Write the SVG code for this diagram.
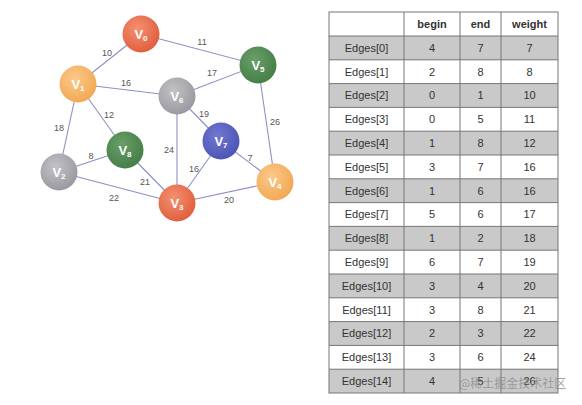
<svg xmlns="http://www.w3.org/2000/svg" width="582" height="405" viewBox="0 0 582 405">
<defs>
<radialGradient id="gRed" cx="40%" cy="35%" r="65%"><stop offset="0" stop-color="#f49070"/><stop offset="1" stop-color="#e0603f"/></radialGradient>
<radialGradient id="gOrange" cx="40%" cy="35%" r="65%"><stop offset="0" stop-color="#fbc98a"/><stop offset="1" stop-color="#f2a955"/></radialGradient>
<radialGradient id="gGreen" cx="40%" cy="35%" r="65%"><stop offset="0" stop-color="#6a9e68"/><stop offset="1" stop-color="#467f47"/></radialGradient>
<radialGradient id="gGray" cx="40%" cy="35%" r="65%"><stop offset="0" stop-color="#c2c2c6"/><stop offset="1" stop-color="#9a9aa0"/></radialGradient>
<radialGradient id="gBlue" cx="40%" cy="35%" r="65%"><stop offset="0" stop-color="#7178d0"/><stop offset="1" stop-color="#4e55b5"/></radialGradient>
</defs>
<style>
.edge{stroke:#8d90c4;stroke-width:1.1;fill:none}
.el{font-family:"Liberation Sans",Arial,sans-serif;font-size:9px;fill:#555;text-anchor:middle}
.nl{font-family:"Liberation Sans",Arial,sans-serif;font-size:13px;font-weight:bold;fill:#fff;text-anchor:middle}
.nl tspan.s{font-size:8px}
.grid{stroke:#777;stroke-width:1;fill:none}
.sh{fill:#c9c9c9}
.tc{font-family:"Liberation Sans",Arial,sans-serif;font-size:11px;fill:#333;text-anchor:middle}
.th{font-family:"Liberation Sans",Arial,sans-serif;font-size:11px;font-weight:bold;fill:#333;text-anchor:middle}
.wm{font-family:"Noto Sans CJK SC",sans-serif;font-size:12px;fill:#888;fill-opacity:0.75}
</style>
<rect width="582" height="405" fill="#fff"/>
<g id="connectors">
<line class="edge" x1="141" y1="34" x2="78" y2="84"/>
<line class="edge" x1="141" y1="34" x2="258" y2="65"/>
<line class="edge" x1="78" y1="84" x2="177" y2="96"/>
<line class="edge" x1="258" y1="65" x2="177" y2="96"/>
<line class="edge" x1="78" y1="84" x2="125" y2="150"/>
<line class="edge" x1="78" y1="84" x2="59" y2="172"/>
<line class="edge" x1="177" y1="96" x2="221" y2="141"/>
<line class="edge" x1="177" y1="96" x2="177" y2="203"/>
<line class="edge" x1="258" y1="65" x2="275" y2="182"/>
<line class="edge" x1="221" y1="141" x2="275" y2="182"/>
<line class="edge" x1="221" y1="141" x2="177" y2="203"/>
<line class="edge" x1="125" y1="150" x2="59" y2="172"/>
<line class="edge" x1="125" y1="150" x2="177" y2="203"/>
<line class="edge" x1="59" y1="172" x2="177" y2="203"/>
<line class="edge" x1="177" y1="203" x2="275" y2="182"/>
<text class="el" x="107" y="56">10</text>
<text class="el" x="202" y="45">11</text>
<text class="el" x="126" y="86">16</text>
<text class="el" x="212" y="76">17</text>
<text class="el" x="109" y="118">12</text>
<text class="el" x="204" y="117">19</text>
<text class="el" x="275" y="125">26</text>
<text class="el" x="59" y="131">18</text>
<text class="el" x="169" y="153">24</text>
<text class="el" x="91" y="159">8</text>
<text class="el" x="250" y="161">7</text>
<text class="el" x="194" y="172">16</text>
<text class="el" x="145" y="185">21</text>
<text class="el" x="114" y="201">22</text>
<text class="el" x="229" y="203">20</text>
</g>
<g id="V0"><circle cx="141" cy="34" r="18.5" fill="url(#gRed)"/><text class="nl" x="141" y="39">V<tspan class="s" dy="2">0</tspan></text></g>
<g id="V1"><circle cx="78" cy="84" r="18.5" fill="url(#gOrange)"/><text class="nl" x="78" y="89">V<tspan class="s" dy="2">1</tspan></text></g>
<g id="V2"><circle cx="59" cy="172" r="18.5" fill="url(#gGray)"/><text class="nl" x="59" y="177">V<tspan class="s" dy="2">2</tspan></text></g>
<g id="V3"><circle cx="177" cy="203" r="18.5" fill="url(#gRed)"/><text class="nl" x="177" y="208">V<tspan class="s" dy="2">3</tspan></text></g>
<g id="V4"><circle cx="275" cy="182" r="18.5" fill="url(#gOrange)"/><text class="nl" x="275" y="187">V<tspan class="s" dy="2">4</tspan></text></g>
<g id="V5"><circle cx="258" cy="65" r="18.5" fill="url(#gGreen)"/><text class="nl" x="258" y="70">V<tspan class="s" dy="2">5</tspan></text></g>
<g id="V6"><circle cx="177" cy="96" r="18.5" fill="url(#gGray)"/><text class="nl" x="177" y="101">V<tspan class="s" dy="2">6</tspan></text></g>
<g id="V7"><circle cx="221" cy="141" r="18.5" fill="url(#gBlue)"/><text class="nl" x="221" y="146">V<tspan class="s" dy="2">7</tspan></text></g>
<g id="V8"><circle cx="125" cy="150" r="18.5" fill="url(#gGreen)"/><text class="nl" x="125" y="155">V<tspan class="s" dy="2">8</tspan></text></g>
<g id="table">
<rect class="sh" x="329" y="36" width="229" height="23.8"/>
<rect class="sh" x="329" y="83.6" width="229" height="23.8"/>
<rect class="sh" x="329" y="131.2" width="229" height="23.8"/>
<rect class="sh" x="329" y="178.8" width="229" height="23.8"/>
<rect class="sh" x="329" y="226.4" width="229" height="23.8"/>
<rect class="sh" x="329" y="274" width="229" height="23.8"/>
<rect class="sh" x="329" y="321.6" width="229" height="23.8"/>
<rect class="sh" x="329" y="369.2" width="229" height="23.8"/>
<rect class="grid" x="329" y="12" width="229" height="381"/>
<path class="grid" d="M404 12V393M460 12V393M501 12V393M329 36H558M329 59.8H558M329 83.6H558M329 107.4H558M329 131.2H558M329 155H558M329 178.8H558M329 202.6H558M329 226.4H558M329 250.2H558M329 274H558M329 297.8H558M329 321.6H558M329 345.4H558M329 369.2H558"/>
<text class="th" x="432" y="28">begin</text><text class="th" x="480.5" y="28">end</text><text class="th" x="529.5" y="28">weight</text>
<text class="tc" x="366.5" y="51.8">Edges[0]</text><text class="tc" x="432" y="51.8">4</text><text class="tc" x="480.5" y="51.8">7</text><text class="tc" x="529.5" y="51.8">7</text>
<text class="tc" x="366.5" y="75.6">Edges[1]</text><text class="tc" x="432" y="75.6">2</text><text class="tc" x="480.5" y="75.6">8</text><text class="tc" x="529.5" y="75.6">8</text>
<text class="tc" x="366.5" y="99.4">Edges[2]</text><text class="tc" x="432" y="99.4">0</text><text class="tc" x="480.5" y="99.4">1</text><text class="tc" x="529.5" y="99.4">10</text>
<text class="tc" x="366.5" y="123.2">Edges[3]</text><text class="tc" x="432" y="123.2">0</text><text class="tc" x="480.5" y="123.2">5</text><text class="tc" x="529.5" y="123.2">11</text>
<text class="tc" x="366.5" y="147">Edges[4]</text><text class="tc" x="432" y="147">1</text><text class="tc" x="480.5" y="147">8</text><text class="tc" x="529.5" y="147">12</text>
<text class="tc" x="366.5" y="170.8">Edges[5]</text><text class="tc" x="432" y="170.8">3</text><text class="tc" x="480.5" y="170.8">7</text><text class="tc" x="529.5" y="170.8">16</text>
<text class="tc" x="366.5" y="194.6">Edges[6]</text><text class="tc" x="432" y="194.6">1</text><text class="tc" x="480.5" y="194.6">6</text><text class="tc" x="529.5" y="194.6">16</text>
<text class="tc" x="366.5" y="218.4">Edges[7]</text><text class="tc" x="432" y="218.4">5</text><text class="tc" x="480.5" y="218.4">6</text><text class="tc" x="529.5" y="218.4">17</text>
<text class="tc" x="366.5" y="242.2">Edges[8]</text><text class="tc" x="432" y="242.2">1</text><text class="tc" x="480.5" y="242.2">2</text><text class="tc" x="529.5" y="242.2">18</text>
<text class="tc" x="366.5" y="266">Edges[9]</text><text class="tc" x="432" y="266">6</text><text class="tc" x="480.5" y="266">7</text><text class="tc" x="529.5" y="266">19</text>
<text class="tc" x="366.5" y="289.8">Edges[10]</text><text class="tc" x="432" y="289.8">3</text><text class="tc" x="480.5" y="289.8">4</text><text class="tc" x="529.5" y="289.8">20</text>
<text class="tc" x="366.5" y="313.6">Edges[11]</text><text class="tc" x="432" y="313.6">3</text><text class="tc" x="480.5" y="313.6">8</text><text class="tc" x="529.5" y="313.6">21</text>
<text class="tc" x="366.5" y="337.4">Edges[12]</text><text class="tc" x="432" y="337.4">2</text><text class="tc" x="480.5" y="337.4">3</text><text class="tc" x="529.5" y="337.4">22</text>
<text class="tc" x="366.5" y="361.2">Edges[13]</text><text class="tc" x="432" y="361.2">3</text><text class="tc" x="480.5" y="361.2">6</text><text class="tc" x="529.5" y="361.2">24</text>
<text class="tc" x="366.5" y="385">Edges[14]</text><text class="tc" x="432" y="385">4</text><text class="tc" x="480.5" y="385">5</text><text class="tc" x="529.5" y="385">26</text>
</g>
<text class="wm" x="459" y="388">@稀土掘金技术社区</text>
</svg>
